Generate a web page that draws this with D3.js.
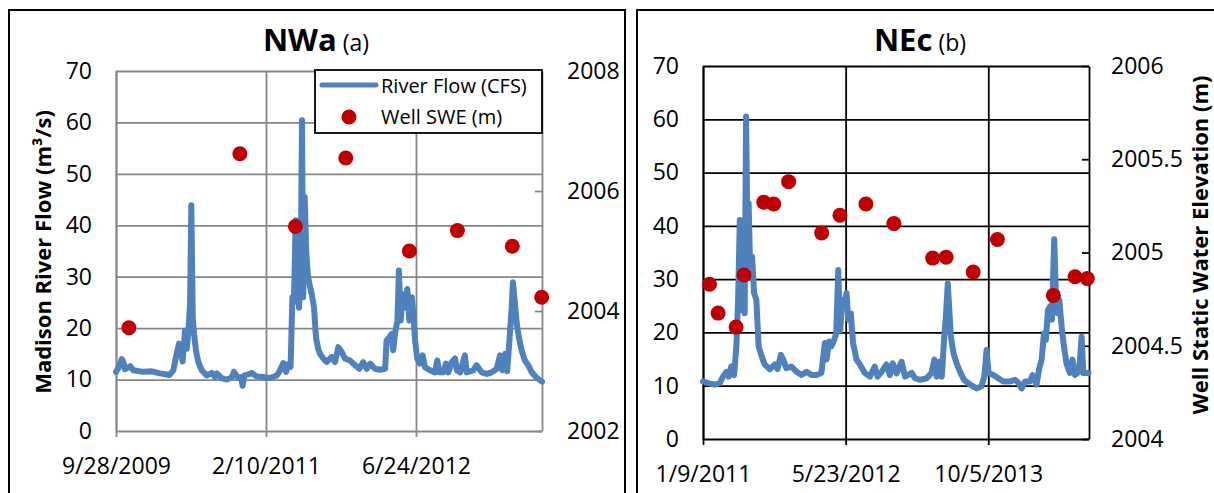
<!DOCTYPE html>
<html>
<head>
<meta charset="utf-8">
<script src="https://cdn.jsdelivr.net/npm/d3@7.9.0/dist/d3.min.js"></script>
<style>
  body { margin: 0; background: #fff; }
  svg text { font-family: "Open Sans", sans-serif; fill: #000; }
</style>
</head>
<body>
<div id="chart"></div>
<script>
// River flow (m3/s)
const flowNWa = [
  ["2009-09-28",11.5],["2009-10-09",12.5],["2009-10-17",14.0],["2009-10-22",13.5],["2009-10-28",12.0],
  ["2009-11-14",12.6],["2009-11-25",11.8],["2009-12-28",11.5],["2010-01-25",11.6],["2010-02-22",11.2],
  ["2010-03-16",11.0],["2010-03-25",10.9],["2010-04-07",11.8],["2010-04-18",15.0],["2010-04-26",17.0],
  ["2010-05-02",15.5],["2010-05-08",13.5],["2010-05-16",19.5],["2010-05-22",16.0],["2010-05-28",20.0],
  ["2010-06-02",25.0],["2010-06-06",43.9],["2010-06-11",22.0],["2010-06-15",19.0],["2010-06-22",15.5],
  ["2010-06-29",13.5],["2010-07-11",11.8],["2010-07-27",10.8],["2010-08-13",11.3],["2010-08-24",10.5],
  ["2010-08-30",11.2],["2010-09-15",10.3],["2010-10-02",10.0],["2010-10-19",10.4],["2010-10-26",11.5],
  ["2010-11-10",10.3],["2010-11-19",10.5],["2010-11-24",8.8],["2010-11-30",10.8],["2010-12-13",11.0],
  ["2010-12-24",11.3],["2011-01-10",10.6],["2011-02-01",10.5],["2011-02-23",10.3],["2011-03-18",10.8],
  ["2011-03-26",11.5],["2011-04-03",12.5],["2011-04-09",13.2],["2011-04-18",11.5],["2011-04-25",13.0],
  ["2011-05-03",12.5],["2011-05-09",26.0],["2011-05-14",25.0],["2011-05-20",41.0],["2011-05-25",40.0],
  ["2011-05-31",24.0],["2011-06-06",33.0],["2011-06-10",60.4],["2011-06-14",26.0],["2011-06-19",45.5],
  ["2011-06-24",35.0],["2011-06-30",30.0],["2011-07-07",28.0],["2011-07-13",26.5],["2011-07-20",24.0],
  ["2011-07-27",18.0],["2011-08-03",16.0],["2011-08-09",15.0],["2011-08-20",14.1],["2011-08-31",13.4],
  ["2011-09-17",14.4],["2011-09-28",13.4],["2011-10-09",16.3],["2011-10-20",15.4],["2011-10-31",14.1],
  ["2011-11-17",13.7],["2011-12-04",12.8],["2011-12-18",12.1],["2011-12-31",13.4],["2012-01-12",12.1],
  ["2012-01-23",13.1],["2012-02-08",12.1],["2012-02-25",11.9],["2012-03-13",12.1],["2012-03-18",17.6],
  ["2012-03-27",18.2],["2012-04-04",18.9],["2012-04-09",15.7],["2012-04-15",18.9],["2012-04-23",21.5],
  ["2012-04-28",31.2],["2012-05-04",21.5],["2012-05-11",26.6],["2012-05-18",24.0],["2012-05-26",27.6],
  ["2012-06-02",21.5],["2012-06-10",26.0],["2012-06-15",22.8],["2012-06-21",17.6],["2012-06-28",14.1],
  ["2012-07-07",13.1],["2012-07-16",14.7],["2012-07-24",12.4],["2012-08-10",11.8],["2012-08-26",11.4],
  ["2012-09-03",13.7],["2012-09-10",11.4],["2012-09-23",11.4],["2012-10-02",13.1],["2012-10-10",11.4],
  ["2012-10-21",13.4],["2012-11-01",14.1],["2012-11-07",11.8],["2012-11-18",11.4],["2012-12-04",14.7],
  ["2012-12-10",11.4],["2013-01-01",11.8],["2013-01-12",12.8],["2013-01-29",11.4],["2013-02-15",11.1],
  ["2013-03-03",11.4],["2013-03-20",12.1],["2013-03-31",14.7],["2013-04-08",11.8],["2013-04-17",15.0],
  ["2013-04-24",11.6],["2013-05-03",18.9],["2013-05-09",24.0],["2013-05-13",28.9],["2013-05-19",25.3],
  ["2013-05-26",20.8],["2013-06-02",18.2],["2013-06-11",15.7],["2013-06-22",13.7],["2013-07-03",12.8],
  ["2013-07-15",11.4],["2013-07-29",10.5],["2013-08-11",9.9],["2013-08-18",9.6]
];

const flowNEc = [
  ["2011-01-09",10.8],["2011-01-27",10.5],["2011-02-19",10.2],["2011-03-09",10.5],["2011-03-20",11.7],
  ["2011-04-01",12.6],["2011-04-09",11.7],["2011-04-18",13.6],["2011-04-28",12.0],["2011-05-06",17.4],
  ["2011-05-12",26.1],["2011-05-18",41.1],["2011-05-24",24.2],["2011-05-30",40.5],["2011-06-04",23.6],
  ["2011-06-09",60.5],["2011-06-14",36.1],["2011-06-18",44.2],["2011-06-23",32.4],["2011-06-30",34.2],
  ["2011-07-07",27.4],["2011-07-15",26.1],["2011-07-23",17.4],["2011-08-02",15.6],["2011-08-13",14.0],
  ["2011-08-31",13.1],["2011-09-18",14.0],["2011-09-27",13.1],["2011-10-09",15.8],["2011-10-17",14.9],
  ["2011-10-28",13.3],["2011-11-15",13.6],["2011-12-03",12.6],["2011-12-20",12.0],["2012-01-07",12.6],
  ["2012-01-24",12.0],["2012-02-11",12.0],["2012-02-28",12.4],["2012-03-11",18.0],["2012-03-17",14.9],
  ["2012-03-26",18.3],["2012-04-03",17.4],["2012-04-13",18.6],["2012-04-20",19.8],["2012-04-27",31.7],
  ["2012-05-04",20.4],["2012-05-11",26.1],["2012-05-18",24.9],["2012-05-26",27.4],["2012-06-01",22.4],
  ["2012-06-10",23.6],["2012-06-18",18.0],["2012-06-30",14.9],["2012-07-12",14.0],["2012-07-29",12.4],
  ["2012-08-16",11.7],["2012-09-02",13.6],["2012-09-12",11.7],["2012-09-26",12.6],["2012-10-13",14.0],
  ["2012-10-25",12.0],["2012-11-04",14.2],["2012-11-18",12.3],["2012-12-05",14.5],["2012-12-17",11.7],
  ["2013-01-10",12.4],["2013-01-21",11.4],["2013-02-08",11.1],["2013-03-03",11.4],["2013-03-20",12.4],
  ["2013-03-30",14.9],["2013-04-07",11.7],["2013-04-16",14.5],["2013-04-25",11.7],["2013-05-03",18.6],
  ["2013-05-10",23.6],["2013-05-16",29.2],["2013-05-22",23.6],["2013-05-27",19.2],["2013-06-05",16.1],
  ["2013-06-16",14.2],["2013-06-28",12.6],["2013-07-12",11.1],["2013-08-02",10.2],["2013-08-25",9.5],
  ["2013-09-11",9.9],["2013-09-21",11.7],["2013-09-29",16.7],["2013-10-06",12.4],["2013-10-23",12.0],
  ["2013-11-09",11.4],["2013-11-27",10.8],["2013-12-20",10.8],["2014-01-07",11.1],["2014-01-19",10.5],
  ["2014-01-30",9.5],["2014-02-11",10.8],["2014-02-28",10.8],["2014-03-09",12.0],["2014-03-23",10.2],
  ["2014-04-01",13.1],["2014-04-10",14.9],["2014-04-18",19.8],["2014-04-25",18.6],["2014-05-02",24.2],
  ["2014-05-09",24.9],["2014-05-16",22.4],["2014-05-24",37.5],["2014-05-30",27.4],["2014-06-05",23.6],
  ["2014-06-11",26.1],["2014-06-19",21.1],["2014-06-27",17.4],["2014-07-06",14.2],["2014-07-18",12.4],
  ["2014-07-27",14.9],["2014-08-05",12.0],["2014-08-14",12.4],["2014-08-20",13.1],["2014-08-28",19.2],
  ["2014-09-03",12.4],["2014-09-15",12.4],["2014-09-21",12.4]
];

// Well static water elevation (m)
const sweNWa = [
  ["2009-11-10",2003.72],["2010-11-15",2006.62],["2011-05-19",2005.41],["2011-11-03",2006.55],
  ["2012-06-02",2005.00],["2012-11-09",2005.34],["2013-05-11",2005.08],["2013-08-17",2004.23]
];

const sweNEc = [
  ["2011-02-01",2004.83],["2011-03-03",2004.675],["2011-05-05",2004.60],["2011-06-02",2004.88],
  ["2011-08-10",2005.27],["2011-09-14",2005.26],["2011-11-05",2005.38],["2012-02-29",2005.105],
  ["2012-05-03",2005.20],["2012-08-02",2005.26],["2012-11-08",2005.155],["2013-03-24",2004.97],
  ["2013-05-10",2004.975],["2013-08-13",2004.895],["2013-11-06",2005.07],["2014-05-21",2004.77],
  ["2014-08-05",2004.87],["2014-09-17",2004.86]
];

// axes
const flowTicks = [0, 10, 20, 30, 40, 50, 60, 70];
const dateTicksNWa = ["2009-09-28", "2011-02-10", "2012-06-24"];
const dateTicksNEc = ["2011-01-09", "2012-05-23", "2013-10-05"];
const dateRangeNWa = ["2009-09-28", "2013-08-18"];
const dateRangeNEc = ["2011-01-09", "2014-09-23"];
const elevTicksNWa = [2002, 2004, 2006, 2008];
const elevTicksNEc = [2004, 2004.5, 2005, 2005.5, 2006];

const parse = d3.timeParse('%Y-%m-%d');
const fmtDate = d3.timeFormat('%-m/%-d/%Y');
const blue = '#4f81bd';
const red = '#c00000';

const svg = d3.select('#chart')
  .append('svg')
  .attr('width', 1214)
  .attr('height', 493);

function styleAxis(g, color) {
  g.attr('font-size', null).attr('font-family', null);
  g.selectAll('line, path').attr('stroke', color).attr('stroke-width', 1.8);
  g.selectAll('text').style('font-size', '23px');
}

function drawPanel(p) {
  // outer chart frame
  svg.append('rect')
    .attr('x', p.frame[0]).attr('y', 10)
    .attr('width', p.frame[1]).attr('height', 520)
    .attr('fill', 'none').attr('stroke', '#000').attr('stroke-width', 2);

  const x = d3.scaleTime()
    .domain(p.dateRange.map(parse))
    .range([p.left, p.right]);
  const y = d3.scaleLinear().domain([0, 70]).range([p.bottom, p.top]);
  const y2 = d3.scaleLinear().domain(d3.extent(p.elevTicks)).range([p.bottom, p.top]);
  const plotW = p.right - p.left;
  const plotH = p.bottom - p.top;

  // vertical gridlines + small outside ticks
  svg.append('g')
    .attr('transform', `translate(0,${p.top})`)
    .call(d3.axisBottom(x).tickValues(p.dateTicks.map(parse)).tickSize(plotH + 6).tickFormat(''))
    .call(g => g.select('.domain').remove())
    .call(g => styleAxis(g, p.grid));

  // horizontal gridlines, left labels
  svg.append('g')
    .attr('transform', `translate(${p.left},0)`)
    .call(d3.axisLeft(y).tickValues(flowTicks).tickSize(-plotW).tickSizeOuter(0).tickPadding(24))
    .call(g => styleAxis(g, p.grid));

  // date labels
  svg.append('g')
    .attr('transform', `translate(0,${p.bottom})`)
    .call(d3.axisBottom(x).tickValues(p.dateTicks.map(parse)).tickSize(0).tickPadding(27).tickFormat(fmtDate))
    .call(g => g.select('.domain').remove())
    .call(g => styleAxis(g, p.grid));

  // secondary axis
  svg.append('g')
    .attr('transform', `translate(${p.right},0)`)
    .call(d3.axisRight(y2).tickValues(p.elevTicks).tickSize(-7).tickSizeOuter(0)
      .tickPadding(p.rightPad).tickFormat(d => d))
    .call(g => styleAxis(g, p.grid));

  // flow line
  const line = d3.line()
    .x(d => x(parse(d[0])))
    .y(d => y(d[1]));
  svg.append('path')
    .datum(p.flow)
    .attr('d', line)
    .attr('fill', 'none')
    .attr('stroke', blue)
    .attr('stroke-width', 6)
    .attr('stroke-linejoin', 'round')
    .attr('stroke-linecap', 'round');

  // well dots
  svg.append('g')
    .selectAll('circle')
    .data(p.swe)
    .join('circle')
    .attr('cx', d => x(parse(d[0])))
    .attr('cy', d => y2(d[1]))
    .attr('r', 7.5)
    .attr('fill', red);

  // title
  const title = svg.append('text')
    .attr('x', p.titleX).attr('y', 51)
    .attr('text-anchor', 'middle');
  title.append('tspan').style('font-size', '31px').style('font-weight', 'bold').text(p.name);
  title.append('tspan').style('font-size', '23px').text(' ' + p.letter);

  return x;
}

drawPanel({
  frame: [9, 616],
  left: 116, right: 542, top: 71, bottom: 431,
  grid: '#878787', rightPad: 25,
  dateRange: dateRangeNWa, dateTicks: dateTicksNWa, elevTicks: elevTicksNWa,
  flow: flowNWa, swe: sweNWa,
  titleX: 316, name: 'NWa', letter: '(a)'
});

drawPanel({
  frame: [637, 620],
  left: 703, right: 1089, top: 66, bottom: 439,
  grid: '#000', rightPad: 22,
  dateRange: dateRangeNEc, dateTicks: dateTicksNEc, elevTicks: elevTicksNEc,
  flow: flowNEc, swe: sweNEc,
  titleX: 920, name: 'NEc', letter: '(b)'
});

// axis titles
svg.append('text')
  .attr('transform', 'translate(51,252) rotate(-90)')
  .attr('text-anchor', 'middle')
  .style('font-size', '22px').style('font-weight', 'bold')
  .text('Madison River Flow (m³/s)');

svg.append('text')
  .attr('transform', 'translate(1208,245) rotate(-90)')
  .attr('text-anchor', 'middle')
  .style('font-size', '22px').style('font-weight', 'bold')
  .text('Well Static Water Elevation (m)');

// legend (left panel)
const legend = svg.append('g').attr('transform', 'translate(315,70)');
legend.append('rect')
  .attr('width', 227).attr('height', 63)
  .attr('fill', '#fff').attr('stroke', '#000').attr('stroke-width', 1.8);
legend.append('line')
  .attr('x1', 7).attr('x2', 61).attr('y1', 15).attr('y2', 15)
  .attr('stroke', blue).attr('stroke-width', 5).attr('stroke-linecap', 'round');
legend.append('text').attr('x', 66).attr('y', 23).style('font-size', '20px').text('River Flow (CFS)');
legend.append('circle').attr('cx', 34).attr('cy', 47).attr('r', 7.5).attr('fill', red);
legend.append('text').attr('x', 66).attr('y', 54).style('font-size', '20px').text('Well SWE (m)');
</script>
</body>
</html>
